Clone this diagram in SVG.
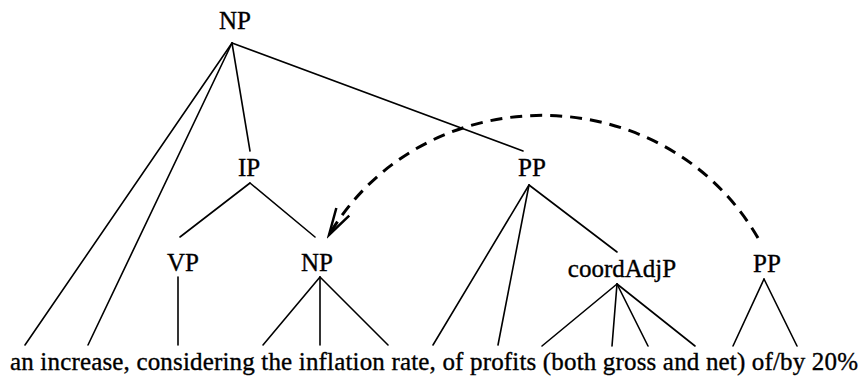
<svg xmlns="http://www.w3.org/2000/svg" width="861" height="376" viewBox="0 0 861 376">
<style>
  text { font-family: "Liberation Serif", "DejaVu Serif", "Times New Roman", Times, serif; font-size: 25px; fill: #000; stroke: #000; stroke-width: 0.35; }
  .lbl { text-anchor: middle; }
  .edge { stroke: #000; stroke-width: 1.6; fill: none; stroke-linecap: round; }
  .move { stroke: #000; stroke-width: 3; fill: none; stroke-dasharray: 12 8; }
</style>
<defs>
  <marker id="arrow" viewBox="-30 -12 34 24" refX="0" refY="0" markerWidth="34" markerHeight="24" markerUnits="userSpaceOnUse" orient="auto">
    <path d="M -27 -7.5 L 0 0 L -27 7.5" stroke="#000" stroke-width="2.5" fill="none" stroke-dasharray="none" stroke-linejoin="miter"/>
  </marker>
</defs>
<rect width="861" height="376" fill="#fff"/>

<g id="connectors">
  <line class="edge" x1="232" y1="43" x2="25" y2="345"/>
  <line class="edge" x1="232" y1="43" x2="88" y2="345"/>
  <line class="edge" x1="232" y1="43" x2="250" y2="151"/>
  <line class="edge" x1="232" y1="43" x2="523" y2="151"/>
  <line class="edge" x1="250" y1="183" x2="180" y2="237"/>
  <line class="edge" x1="250" y1="183" x2="315" y2="237"/>
  <line class="edge" x1="529" y1="185" x2="433" y2="345"/>
  <line class="edge" x1="529" y1="185" x2="498" y2="345"/>
  <line class="edge" x1="529" y1="185" x2="617" y2="252"/>
  <line class="edge" x1="178" y1="277" x2="178" y2="345"/>
  <line class="edge" x1="320" y1="277" x2="263" y2="345"/>
  <line class="edge" x1="320" y1="277" x2="320" y2="345"/>
  <line class="edge" x1="320" y1="277" x2="388" y2="345"/>
  <line class="edge" x1="617" y1="284" x2="542" y2="346"/>
  <line class="edge" x1="617" y1="284" x2="612" y2="346"/>
  <line class="edge" x1="617" y1="284" x2="648" y2="346"/>
  <line class="edge" x1="617" y1="284" x2="695" y2="346"/>
  <line class="edge" x1="764" y1="279" x2="733" y2="346"/>
  <line class="edge" x1="764" y1="279" x2="797" y2="346"/>
  <path class="move" d="M 758 238 C 663 75, 424 75, 329 235" marker-end="url(#arrow)"/>
</g>

<g id="node-np-top"><text class="lbl" x="235" y="29">NP</text></g>
<g id="node-ip"><text class="lbl" x="249" y="176">IP</text></g>
<g id="node-pp-mid"><text class="lbl" x="532" y="176">PP</text></g>
<g id="node-vp"><text class="lbl" x="183" y="271">VP</text></g>
<g id="node-np-low"><text class="lbl" x="317" y="271">NP</text></g>
<g id="node-coordadjp"><text class="lbl" x="622" y="277">coordAdjP</text></g>
<g id="node-pp-right"><text class="lbl" x="767" y="272">PP</text></g>
<g id="leaves"><text x="10" y="370" textLength="848" lengthAdjust="spacing">an increase, considering the inflation rate, of profits (both gross and net) of/by 20%</text></g>
</svg>
